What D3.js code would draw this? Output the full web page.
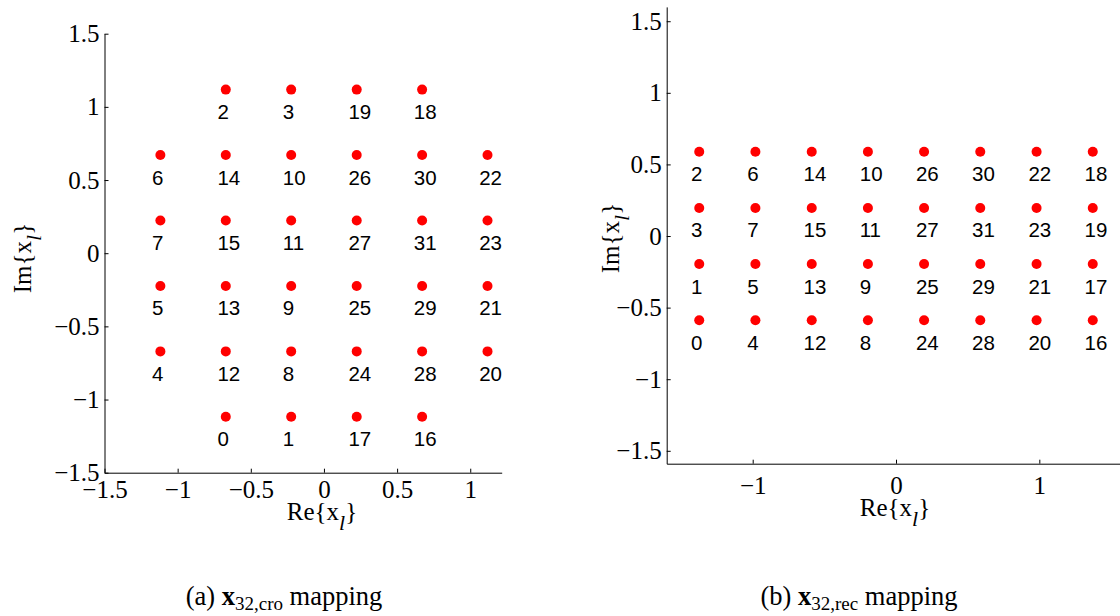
<!DOCTYPE html>
<html>
<head>
<meta charset="utf-8">
<script src="https://cdn.jsdelivr.net/npm/d3@7"></script>
<style>
  html, body { margin: 0; padding: 0; background: #fff; }
  svg { display: block; }
  .tick text { font-family: "Liberation Serif", "Times New Roman", serif; font-size: 25px; fill: #000; }
  .domain, .tick line { stroke: #000; stroke-width: 1; }
</style>
</head>
<body>
<script>
// 32-point cross constellation: real part, imaginary part and bit label
const crossRe = [-0.671, -0.224, -0.671, -0.224, -1.118, -1.118, -1.118, -1.118,
                 -0.224, -0.224, -0.224, -0.224, -0.671, -0.671, -0.671, -0.671,
                  0.671,  0.224,  0.671,  0.224,  1.118,  1.118,  1.118,  1.118,
                  0.224,  0.224,  0.224,  0.224,  0.671,  0.671,  0.671,  0.671];
const crossIm = [-1.118, -1.118,  1.118,  1.118, -0.671, -0.224,  0.671,  0.224,
                 -0.671, -0.224,  0.671,  0.224, -0.671, -0.224,  0.671,  0.224,
                 -1.118, -1.118,  1.118,  1.118, -0.671, -0.224,  0.671,  0.224,
                 -0.671, -0.224,  0.671,  0.224, -0.671, -0.224,  0.671,  0.224];
const crossLabels = ["0","1","2","3","4","5","6","7","8","9","10","11","12","13","14","15",
                     "16","17","18","19","20","21","22","23","24","25","26","27","28","29","30","31"];

// 32-point rectangular (8 x 4) constellation
const rectRe = [-1.373, -1.373, -1.373, -1.373, -0.981, -0.981, -0.981, -0.981,
                -0.196, -0.196, -0.196, -0.196, -0.588, -0.588, -0.588, -0.588,
                 1.373,  1.373,  1.373,  1.373,  0.981,  0.981,  0.981,  0.981,
                 0.196,  0.196,  0.196,  0.196,  0.588,  0.588,  0.588,  0.588];
const rectIm = [-0.588, -0.196,  0.588,  0.196, -0.588, -0.196,  0.588,  0.196,
                -0.588, -0.196,  0.588,  0.196, -0.588, -0.196,  0.588,  0.196,
                -0.588, -0.196,  0.588,  0.196, -0.588, -0.196,  0.588,  0.196,
                -0.588, -0.196,  0.588,  0.196, -0.588, -0.196,  0.588,  0.196];
const rectLabels = crossLabels;

// Axis ticks
const crossXTicks = [-1.5, -1, -0.5, 0, 0.5, 1];
const crossYTicks = [-1.5, -1, -0.5, 0, 0.5, 1, 1.5];
const rectXTicks = [-1, 0, 1];
const rectYTicks = [-1.5, -1, -0.5, 0, 0.5, 1, 1.5];

const W = 1120, H = 616;
const svg = d3.select("body").append("svg").attr("width", W).attr("height", H)
  .style("background", "#fff");

const fmt = v => (v < 0 ? "\u2212" : "") + String(Math.abs(v));

function panel(cfg) {
  const x = d3.scaleLinear().domain(cfg.xDomain).range(cfg.xRange);
  const y = d3.scaleLinear().domain(cfg.yDomain).range(cfg.yRange);
  const g = svg.append("g");

  g.append("g")
    .attr("transform", `translate(0,${cfg.yRange[0]})`)
    .call(d3.axisBottom(x).tickValues(cfg.xTicks).tickFormat(fmt)
      .tickSizeInner(-4).tickSizeOuter(0).tickPadding(cfg.xPad));

  g.append("g")
    .attr("transform", `translate(${cfg.xRange[0]},0)`)
    .call(d3.axisLeft(y).tickValues(cfg.yTicks).tickFormat(fmt)
      .tickSizeInner(-4).tickSizeOuter(0).tickPadding(5));

  const pts = cfg.re.map((r, i) => ({ re: r, im: cfg.im[i], label: cfg.labels[i] }));

  g.append("g").selectAll("circle").data(pts).join("circle")
    .attr("cx", d => x(d.re)).attr("cy", d => y(d.im))
    .attr("r", 5).attr("fill", "#ff0000");

  g.append("g").selectAll("text").data(pts).join("text")
    .attr("x", d => x(d.re - 0.05) - 1).attr("y", d => y(d.im) + 29.5)
    .attr("font-family", "'Liberation Sans', Arial, sans-serif")
    .attr("font-size", 20.5).attr("fill", "#000")
    .text(d => d.label);

  // axis titles: Re{x_l} and Im{x_l}
  function title(tx, ty, rot, head) {
    const t = g.append("text")
      .attr("transform", `translate(${tx},${ty}) rotate(${rot})`)
      .attr("text-anchor", "middle")
      .attr("font-family", "'Liberation Serif', 'Times New Roman', serif")
      .attr("font-size", 25).attr("fill", "#000");
    t.append("tspan").text(head + "{x");
    t.append("tspan").attr("font-style", "italic").attr("font-size", 22).attr("dy", 10).text("l");
    t.append("tspan").attr("dy", -10).text("}");
  }
  title(cfg.xTitle[0], cfg.xTitle[1], 0, "Re");
  title(cfg.yTitle[0], cfg.yTitle[1], -90, "Im");

  // caption
  const c = svg.append("text")
    .attr("x", cfg.caption[0]).attr("y", cfg.caption[1])
    .attr("text-anchor", "middle")
    .attr("font-family", "'Liberation Serif', 'Times New Roman', serif")
    .attr("font-size", 26.5).attr("fill", "#000");
  c.append("tspan").text(cfg.capLetter + " ");
  c.append("tspan").attr("font-weight", "bold").text("x");
  c.append("tspan").attr("font-size", 19).attr("dy", 5).text(cfg.capSub);
  c.append("tspan").attr("dy", -5).text(" mapping");
}

panel({
  re: crossRe, im: crossIm, labels: crossLabels,
  xDomain: [-1.5, 1.215], xRange: [104.5, 501.7],
  yDomain: [-1.5, 1.5], yRange: [472.7, 33.7],
  xTicks: crossXTicks, yTicks: crossYTicks, xPad: 8,
  xTitle: [322, 520], yTitle: [31, 258],
  caption: [284, 605], capLetter: "(a)", capSub: "32,cro"
});

panel({
  re: rectRe, im: rectIm, labels: rectLabels,
  xDomain: [-1.6, 1.6], xRange: [666.7, 1125.3],
  yDomain: [-1.59, 1.6], yRange: [463.7, 6.9],
  xTicks: rectXTicks, yTicks: rectYTicks, xPad: 13,
  xTitle: [895, 516], yTitle: [619, 238],
  caption: [859, 605], capLetter: "(b)", capSub: "32,rec"
});
</script>
</body>
</html>
